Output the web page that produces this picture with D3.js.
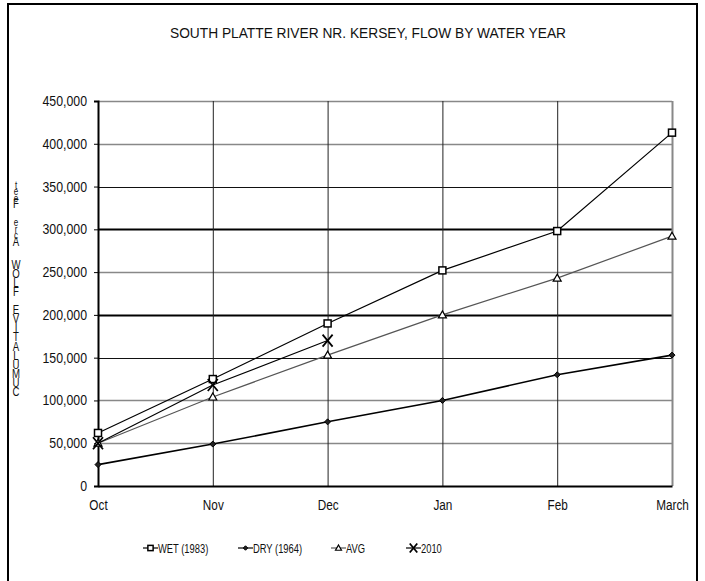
<!DOCTYPE html>
<html><head><meta charset="utf-8">
<script src="https://cdn.jsdelivr.net/npm/d3@7"></script>
<style>
html,body{margin:0;padding:0;background:#fff;}
svg{display:block;}
text{font-family:"Liberation Sans",Arial,sans-serif;fill:#111;}
</style></head>
<body>
<svg id="chart" width="705" height="581"></svg>
<script>
const months = ["Oct","Nov","Dec","Jan","Feb","March"];
const wet1983 = [62000,125000,190000,252000,298000,413000];
const dry1964 = [25000,49000,75000,100000,130000,153000];
const avgFlow = [50000,104000,153000,200000,243000,292000];
const y2010 = [50000,118000,170000];
const yTicks = [0,50000,100000,150000,200000,250000,300000,350000,400000,450000];
const titleText = "SOUTH PLATTE RIVER NR. KERSEY, FLOW BY WATER YEAR";
const yLabel = "CUMULATIVE FLOW Acre Feet";

function squeeze(sel, k){
  sel.each(function(){
    const L = this.getComputedTextLength();
    if (L > 0) d3.select(this).attr("textLength", L*k).attr("lengthAdjust","spacingAndGlyphs");
  });
}

const svg = d3.select("#chart");
// outer border
svg.append("rect").attr("x",8).attr("y",4).attr("width",689).attr("height",580)
  .attr("fill","none").attr("stroke","#000").attr("stroke-width",2);

const x = d3.scalePoint().domain(months).range([98,672]);
const y = d3.scaleLinear().domain([0,450000]).range([486,101]);

// horizontal gridlines
const gridStyle = v => {
  if (v===300000 || v===200000) return {c:"#000", w:2};
  if (v===350000 || v===150000) return {c:"#111", w:1};
  return {c:"#888", w:1.5};
};
svg.append("g").selectAll("line").data(yTicks.filter(v=>v>0)).join("line")
  .attr("x1",98).attr("x2",672)
  .attr("y1",d=>Math.round(y(d))+0.5).attr("y2",d=>Math.round(y(d))+0.5)
  .attr("stroke",d=>gridStyle(d).c).attr("stroke-width",d=>gridStyle(d).w);

// vertical gridlines
svg.append("g").selectAll("line").data(months.slice(1,5)).join("line")
  .attr("x1",d=>x(d)+0.5).attr("x2",d=>x(d)+0.5).attr("y1",101).attr("y2",486)
  .attr("stroke","#222").attr("stroke-width",1);
svg.append("line").attr("x1",x("March")+0.5).attr("x2",x("March")+0.5).attr("y1",101).attr("y2",486)
  .attr("stroke","#888").attr("stroke-width",2);

// y axis
const yAxis = d3.axisLeft(y).tickValues(yTicks).tickFormat(d3.format(",")).tickSize(4).tickPadding(7);
const gy = svg.append("g").attr("transform","translate(98,0)").call(yAxis);
gy.select(".domain").attr("stroke","#000").attr("stroke-width",2);
gy.selectAll(".tick line").attr("stroke","#000");
gy.selectAll("text").attr("font-size",14).attr("fill","#111")
  .attr("font-family",'"Liberation Sans",Arial,sans-serif');
squeeze(gy.selectAll("text"),0.88);

// x axis
const xAxis = d3.axisBottom(x).tickSize(0).tickPadding(14);
const gx = svg.append("g").attr("transform","translate(0,486)").call(xAxis);
gx.select(".domain").attr("stroke","#000").attr("stroke-width",2);
gx.selectAll("text").attr("font-size",14).attr("fill","#111")
  .attr("font-family",'"Liberation Sans",Arial,sans-serif');
squeeze(gx.selectAll("text"),0.84);

// title
const tt = svg.append("text").attr("x",368).attr("y",38).attr("text-anchor","middle")
  .attr("font-size",14).text(titleText);
tt.attr("textLength",396).attr("lengthAdjust","spacingAndGlyphs");

// stacked y label (bottom to top)
const chars = yLabel.split("");
let cy = 396, ys = [];
chars.forEach((c,i)=>{
  if (i>0) {
    const prev = chars[i-1];
    let step = 9.1;
    if (c===" ") step = (prev==="W") ? 14 : 9;
    else if (prev===" ") step = 9;
    else if (c!==c.toUpperCase()) step = 6.5;
    cy -= step;
  }
  ys.push(cy);
});
const yl = svg.append("g").selectAll("text").data(chars).join("text")
  .attr("x",16).attr("y",(d,i)=>ys[i])
  .attr("text-anchor","middle").attr("font-size",d=>d===d.toLowerCase()?10:12)
  .text(d=>d);
squeeze(yl.filter(d=>d!==" "),0.8);

// lines
const line = d3.line().x((d,i)=>x(months[i])).y(d=>y(d));
const series = [
  {name:"WET (1983)", vals:wet1983, stroke:"#000", w:1.2, marker:"square"},
  {name:"DRY (1964)", vals:dry1964, stroke:"#000", w:1.6, marker:"diamond"},
  {name:"AVG", vals:avgFlow, stroke:"#555", w:1.2, marker:"triangle"},
  {name:"2010", vals:y2010, stroke:"#000", w:1.2, marker:"x"}
];
function drawMarker(g, type, cx, cy, s){
  s = s || 1;
  if(type==="square"){
    g.append("rect").attr("x",cx-3.5*s).attr("y",cy-3.5*s).attr("width",7*s).attr("height",7*s)
      .attr("fill","#fff").attr("stroke","#000").attr("stroke-width",1.5);
  } else if(type==="diamond"){
    g.append("path").attr("d",`M${cx},${cy-3*s}L${cx+3*s},${cy}L${cx},${cy+3*s}L${cx-3*s},${cy}Z`)
      .attr("fill","#222").attr("stroke","#000").attr("stroke-width",1);
  } else if(type==="triangle"){
    g.append("path").attr("d",`M${cx},${cy-4*s}L${cx+4*s},${cy+3*s}L${cx-4*s},${cy+3*s}Z`)
      .attr("fill","#fff").attr("stroke","#000").attr("stroke-width",1.2);
  } else {
    g.append("path").attr("d",`M${cx-5*s},${cy-6*s}L${cx+5*s},${cy+6*s}M${cx+5*s},${cy-6*s}L${cx-5*s},${cy+6*s}`)
      .attr("stroke","#000").attr("stroke-width",1.8);
  }
}
series.forEach(s=>{
  svg.append("path").attr("d",line(s.vals)).attr("fill","none")
    .attr("stroke",s.stroke).attr("stroke-width",s.w);
});
series.forEach(s=>{
  const g = svg.append("g");
  s.vals.forEach((v,i)=>drawMarker(g,s.marker,x(months[i]),y(v)));
});

// legend
const legX = [143,238,331,406];
series.forEach((s,i)=>{
  const g = svg.append("g");
  const ly = 548;
  g.append("line").attr("x1",legX[i]).attr("x2",legX[i]+15).attr("y1",ly).attr("y2",ly)
    .attr("stroke",s.stroke).attr("stroke-width",1.2);
  const mg = g.append("g");
  drawMarker(mg,s.marker,legX[i]+7.5,ly,0.75);
  const t = g.append("text").attr("x",legX[i]+15).attr("y",ly+4.5).attr("font-size",12).text(s.name);
  squeeze(t,0.78);
});
</script>
</body></html>
